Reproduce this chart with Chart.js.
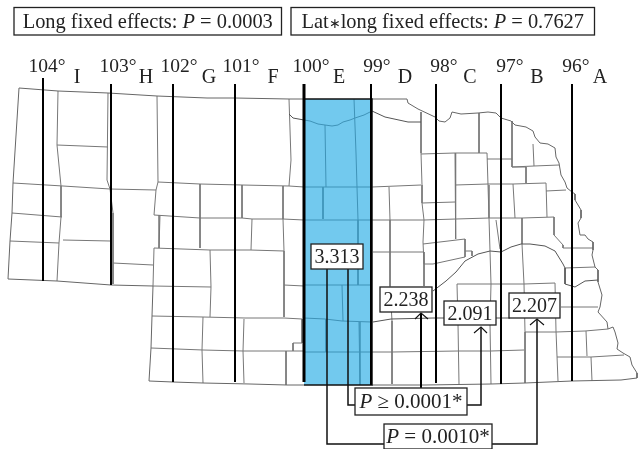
<!DOCTYPE html>
<html>
<head>
<meta charset="utf-8">
<style>
    html, body { margin: 0; padding: 0; background: #fff; }
    canvas { display: block; }
</style>
<script src="https://cdn.jsdelivr.net/npm/chart.js@4"></script>
</head>
<body>
<canvas id="mapChart" width="638" height="449"></canvas>
<script>
const longitudes = ["104°", "103°", "102°", "101°", "100°", "99°", "98°", "97°", "96°"];
const meridianX = [43, 111, 173, 235, 304, 371, 436, 501, 572];
const meridianTop = [78, 84, 84, 84, 84, 84, 84, 84, 84];
const meridianBottom = [281, 285, 382, 382, 382, 385, 383, 384, 381];
const bands = ["I", "H", "G", "F", "E", "D", "C", "B", "A"];
const means = ["3.313", "2.238", "2.091", "2.207"];
const fixedEffects = ["0.0003", "0.7627"];
const contrasts = ["0.0001", "0.0010"];

const stateBorder = [
    [[19, 88], [58, 91], [108, 93], [157, 96], [207, 98], [235, 98], [289, 99], [304, 99]],
    [[372, 99], [407, 99], [408, 103], [418, 109], [435, 117], [439, 121], [445, 122], [450, 118], [452, 112],
     [461, 114], [478, 113], [488, 112], [496, 113], [501, 118], [511, 121], [515, 125], [526, 127], [533, 131],
     [535, 137], [540, 143], [548, 144], [555, 148], [556, 157], [559, 163], [561, 175], [565, 182], [567, 188],
     [572, 192], [575, 194], [575, 200], [581, 210], [581, 218], [578, 223], [580, 235], [585, 235], [588, 239],
     [593, 242], [593, 250], [592, 255], [595, 267], [598, 270], [598, 282], [602, 295], [600, 307], [598, 312],
     [607, 322], [608, 329], [613, 327], [615, 332], [618, 343], [617, 349], [623, 353], [630, 357], [632, 365],
     [637, 373], [637, 378], [621, 380], [572, 381], [525, 383], [491, 384], [425, 385], [372, 385]],
    [[304, 385], [287, 385], [250, 384], [203, 383], [173, 382], [149, 381], [151, 348], [152, 316], [153, 286],
     [111, 285], [57, 281], [8, 279], [10, 241], [12, 213], [13, 183], [19, 88]]
];

const rivers = [
    [[289, 114], [293, 118], [304, 120]],
    [[372, 111], [385, 117], [408, 122], [421, 122]],
    [[433, 291], [446, 281], [456, 272], [465, 261], [478, 254], [490, 251], [501, 252], [511, 247], [521, 244],
     [530, 244], [545, 246], [555, 251], [563, 264], [565, 268], [565, 284], [575, 287], [585, 281], [598, 280]],
    [[373, 322], [391, 319], [433, 318], [445, 318], [510, 318]]
];

const countyLines = [
    [[58, 91], [57, 145], [61, 186], [61, 217], [59, 243], [57, 281]],
    [[57, 145], [108, 147]],
    [[108, 93], [107, 180], [110, 189], [113, 213], [113, 247], [113, 284]],
    [[13, 183], [63, 186], [110, 189], [156, 190]],
    [[157, 96], [158, 182], [156, 190], [154, 215]],
    [[154, 248], [153, 286]],
    [[158, 182], [200, 184], [242, 185], [289, 186], [304, 187]],
    [[289, 99], [291, 160], [289, 186]],
    [[12, 213], [62, 217]],
    [[10, 241], [59, 243]],
    [[63, 240], [110, 241]],
    [[113, 263], [153, 265]],
    [[154, 215], [200, 218], [242, 218], [252, 219], [283, 219], [304, 220]],
    [[200, 184], [200, 217], [200, 248]],
    [[242, 185], [242, 218]],
    [[252, 219], [251, 250]],
    [[283, 186], [283, 219], [284, 251], [284, 285], [284, 317]],
    [[160, 215], [159, 248]],
    [[154, 248], [210, 250], [250, 250], [284, 251]],
    [[210, 250], [211, 287], [210, 317]],
    [[153, 286], [211, 287]],
    [[152, 316], [203, 317], [245, 318], [284, 318], [302, 319]],
    [[151, 348], [203, 350], [243, 351], [293, 351], [304, 351]],
    [[203, 317], [202, 350], [203, 383]],
    [[244, 319], [243, 351], [244, 383]],
    [[286, 351], [286, 385]],
    [[302, 319], [302, 343], [293, 343], [293, 351]],
    [[284, 285], [304, 286]],
    [[421, 112], [421, 153], [422, 185], [422, 203], [424, 220], [423, 242], [424, 264]],
    [[421, 154], [455, 153], [487, 153]],
    [[479, 113], [479, 153]],
    [[455, 153], [455, 185], [456, 220], [456, 239]],
    [[487, 153], [488, 185], [489, 218], [490, 251], [491, 284], [490, 324], [491, 384]],
    [[455, 185], [488, 184], [513, 184], [546, 183]],
    [[487, 159], [512, 159]],
    [[512, 121], [512, 167], [534, 166], [559, 165]],
    [[533, 144], [534, 166]],
    [[512, 167], [526, 167], [526, 183]],
    [[513, 184], [515, 218]],
    [[546, 183], [547, 217]],
    [[546, 191], [566, 190]],
    [[422, 203], [455, 202]],
    [[372, 187], [421, 185]],
    [[372, 220], [424, 220]],
    [[389, 187], [390, 220], [390, 252], [390, 286], [392, 321], [392, 352], [392, 384]],
    [[373, 252], [424, 252], [424, 286]],
    [[423, 244], [465, 239], [465, 257], [433, 264], [424, 264]],
    [[465, 251], [472, 251], [472, 256]],
    [[424, 220], [456, 219], [489, 218], [522, 218], [554, 217]],
    [[496, 220], [500, 249]],
    [[522, 218], [522, 244], [524, 284], [525, 332], [525, 383]],
    [[554, 217], [554, 235], [563, 245], [563, 248], [593, 248]],
    [[565, 268], [595, 267]],
    [[457, 284], [491, 284], [524, 284], [555, 283]],
    [[457, 284], [458, 324], [459, 384]],
    [[555, 283], [556, 331], [558, 381]],
    [[561, 307], [598, 307]],
    [[525, 332], [556, 332], [585, 331], [608, 329]],
    [[372, 352], [392, 352], [458, 351], [491, 351], [524, 350]],
    [[557, 357], [591, 357], [624, 355]],
    [[586, 331], [587, 356]],
    [[591, 357], [592, 381]]
];

const stripLines = [
    [[304, 120], [310, 121], [318, 124], [325, 125], [332, 126], [338, 125], [343, 122], [350, 120], [355, 118], [364, 115], [372, 111]],
    [[354, 99], [356, 153], [357, 187], [358, 220], [358, 285]],
    [[325, 125], [326, 187]],
    [[323, 187], [323, 219]],
    [[304, 187], [372, 187]],
    [[304, 220], [372, 220]],
    [[304, 285], [372, 285]],
    [[342, 285], [343, 321]],
    [[304, 318], [325, 319], [342, 321], [372, 322]],
    [[326, 319], [326, 352]],
    [[359, 322], [360, 385]],
    [[304, 352], [372, 352]]
];

const stripTop = [[304, 99], [372, 99]];
const stripBottom = 385;
const stripEdges = [[[304, 99], [372, 99], [372, 385], [304, 385]]];

const connectors = [
    [[327, 269], [327, 444], [384, 444]],
    [[348, 269], [348, 405], [355, 405]],
    [[481, 327], [481, 405], [467, 405]],
    [[537, 319], [537, 444], [492, 444]]
];
const thickConnector = [[[421, 313], [421, 388]]];
const arrowHeads = [
    [[415, 319], [421, 313], [428, 319]],
    [[474, 333], [481, 327], [487, 333]],
    [[530, 325], [537, 319], [544, 325]]
];

// joins a list of polylines into one dataset, NaN points break the line
function joined(lines) {
    const pts = [];
    lines.forEach(line => {
        line.forEach(p => pts.push({ x: p[0], y: p[1] }));
        pts.push({ x: NaN, y: NaN });
    });
    return pts;
}

function lineSet(lines, color, width, order) {
    return {
        data: joined(lines),
        showLine: true,
        borderColor: color,
        borderWidth: width,
        pointRadius: 0,
        fill: false,
        spanGaps: false,
        order: order,
        borderJoinStyle: "miter",
        borderCapStyle: "butt",
    };
}

const meridians = meridianX.map((x, i) => [[x, meridianTop[i]], [x, meridianBottom[i]]]);
const wideMeridian = meridians.filter((m, i) => longitudes[i] === "100°");
const thinMeridians = meridians.filter((m, i) => longitudes[i] !== "100°");

const FONT = '"Liberation Serif", serif';
const TEXT = "#222";

const boxes = [
    { x0: 14, y0: 7.5, x1: 281.5, y1: 35, size: 20.4, runs: [["Long fixed effects: "], ["P", 1], [" = " + fixedEffects[0]]] },
    { x0: 291, y0: 7.5, x1: 594.5, y1: 35, size: 20.4, runs: [["Lat"], ["∗", 0, 14], ["long fixed effects: "], ["P", 1], [" = " + fixedEffects[1]]] },
    { x0: 311, y0: 244, x1: 363, y1: 269, size: 20, runs: [[means[0]]] },
    { x0: 380, y0: 287, x1: 432, y1: 312, size: 20, runs: [[means[1]]] },
    { x0: 444, y0: 301, x1: 496, y1: 325, size: 20, runs: [[means[2]]] },
    { x0: 509, y0: 293, x1: 560, y1: 318, size: 20, runs: [[means[3]]] },
    { x0: 355, y0: 388, x1: 467, y1: 415, size: 21, runs: [["P", 1], [" ≥ " + contrasts[0] + "*"]] },
    { x0: 384, y0: 424, x1: 492, y1: 449, size: 21, runs: [["P", 1], [" = " + contrasts[1] + "*"]] },
];
const degreeCentres = [47, 118, 179, 241, 311, 377, 444, 510, 576];
const bandCentres = [77, 146, 209, 273, 339, 405, 470, 537, 600];

const runFont = (b, r) => (r[1] ? "italic " : "") + (r[2] || b.size) + "px " + FONT;

const textPlugin = {
    id: "mapText",
    afterDatasetsDraw(chart) {
        const c = chart.ctx;
        const sx = chart.scales.x, sy = chart.scales.y;
        c.save();
        c.textBaseline = "alphabetic";
        c.fillStyle = TEXT;
        c.textAlign = "center";
        c.font = "19.5px " + FONT;
        longitudes.forEach((t, i) => c.fillText(t, sx.getPixelForValue(degreeCentres[i]), sy.getPixelForValue(72)));
        c.font = "20px " + FONT;
        bands.forEach((t, i) => c.fillText(t, sx.getPixelForValue(bandCentres[i]), sy.getPixelForValue(83)));

        c.textAlign = "left";
        boxes.forEach(b => {
            const x0 = sx.getPixelForValue(b.x0), x1 = sx.getPixelForValue(b.x1);
            const y0 = sy.getPixelForValue(b.y0), y1 = sy.getPixelForValue(b.y1);
            c.fillStyle = "#fff";
            c.fillRect(x0, y0, x1 - x0, y1 - y0);
            c.strokeStyle = "#222";
            c.lineWidth = 1.3;
            c.strokeRect(x0, y0, x1 - x0, y1 - y0);
            let w = 0;
            b.runs.forEach(r => {
                c.font = runFont(b, r);
                w += c.measureText(r[0]).width;
            });
            let x = (x0 + x1 - w) / 2;
            const base = (y0 + y1) / 2 + b.size * 0.33;
            c.fillStyle = TEXT;
            b.runs.forEach(r => {
                c.font = runFont(b, r);
                c.fillText(r[0], x, base);
                x += c.measureText(r[0]).width;
            });
        });
        c.restore();
    },
};

new Chart(document.getElementById("mapChart"), {
    type: "scatter",
    data: {
        datasets: [
            {
                data: stripTop.map(p => ({ x: p[0], y: p[1] })),
                showLine: true,
                borderWidth: 0,
                pointRadius: 0,
                backgroundColor: "#72C9EE",
                fill: { target: { value: stripBottom } },
                order: 20,
            },
            lineSet(countyLines, "#777", 1, 10),
            lineSet(stateBorder, "#666", 1, 9),
            lineSet(rivers, "#555", 1, 8),
            lineSet(stripLines, "#3F93B8", 1, 7),
            lineSet(stripEdges, "#111", 1.5, 6),
            lineSet(thinMeridians, "#000", 2, 5),
            lineSet(wideMeridian, "#000", 3, 4),
            lineSet(connectors, "#111", 1.5, 3),
            lineSet(thickConnector, "#000", 2, 2),
            lineSet(arrowHeads, "#111", 1.1, 1),
        ],
    },
    options: {
        responsive: false,
        animation: false,
        layout: { padding: 0 },
        plugins: { legend: { display: false }, tooltip: { enabled: false } },
        scales: {
            x: { type: "linear", display: false, min: 0, max: 638 },
            y: { type: "linear", display: false, min: 0, max: 449, reverse: true },
        },
    },
    plugins: [textPlugin],
});
</script>
</body>
</html>
